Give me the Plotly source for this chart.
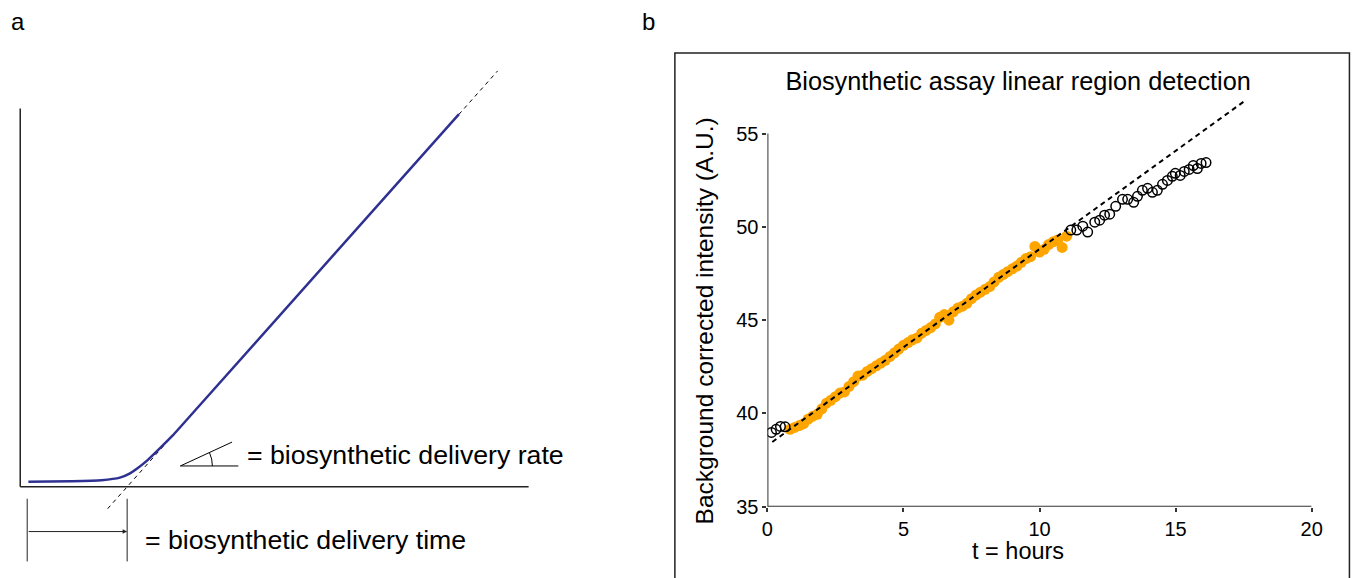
import math
import plotly.graph_objects as go

W, H = 1355, 578

# ---------------- Panel b data (t in hours, intensity in A.U.) ----------------
open_start_t = [0.15, 0.32, 0.48, 0.65]
open_start_y = [38.98, 39.15, 39.30, 39.28]

linear_t = [0.83, 1.00, 1.17, 1.33, 1.50, 1.67, 1.83, 2.00, 2.17, 2.33, 2.50, 2.67, 2.83,
            3.00, 3.17, 3.33, 3.50, 3.67, 3.83, 4.00, 4.17, 4.33, 4.50, 4.67, 4.83, 5.00,
            5.17, 5.33, 5.50, 5.67, 5.83, 6.00, 6.17, 6.33, 6.50, 6.67, 6.83, 7.00, 7.17,
            7.33, 7.50, 7.67, 7.83, 8.00, 8.17, 8.33, 8.50, 8.67, 8.83, 9.00, 9.17, 9.33,
            9.50, 9.67, 9.83, 10.00, 10.17, 10.33, 10.50, 10.67, 10.83, 11.00]
linear_y = [39.15, 39.25, 39.35, 39.45, 39.70, 39.85, 39.95, 40.25, 40.55, 40.70, 40.90, 41.10, 41.15,
            41.45, 41.70, 42.00, 42.05, 42.25, 42.40, 42.55, 42.70, 42.85, 43.05, 43.25, 43.45, 43.65,
            43.80, 43.95, 44.05, 44.30, 44.45, 44.60, 44.80, 45.15, 45.30, 45.00, 45.45, 45.65, 45.75,
            45.90, 46.15, 46.35, 46.50, 46.65, 46.80, 47.05, 47.30, 47.45, 47.60, 47.75, 47.90, 48.10,
            48.30, 48.40, 48.95, 48.65, 48.80, 49.05, 49.20, 49.30, 48.90, 49.50]

open_end_t = [11.15, 11.37, 11.59, 11.77, 12.03, 12.21, 12.39, 12.58, 12.80, 13.05, 13.24, 13.46,
              13.60, 13.78, 13.97, 14.15, 14.33, 14.52, 14.70, 14.88, 14.99, 15.17, 15.32, 15.50,
              15.65, 15.80, 15.94, 16.12]
open_end_y = [49.83, 49.83, 50.04, 49.72, 50.25, 50.36, 50.63, 50.68, 51.10, 51.48, 51.48, 51.32,
              51.64, 51.96, 52.07, 51.85, 51.96, 52.28, 52.49, 52.71, 52.87, 52.76, 52.97, 53.08,
              53.29, 53.13, 53.40, 53.45]

fit_t = [0.18, 17.55]
fit_y = [38.47, 56.76]

x_ticks = [0, 5, 10, 15, 20]
y_ticks = [35, 40, 45, 50, 55]

# ---------------- Panel a schematic (arbitrary units) ----------------
curve_t = [0.16, 1.0, 1.6, 1.96, 2.15, 2.3, 2.5, 2.75, 3.0, 3.5, 8.63]
curve_y = [0.10, 0.11, 0.13, 0.18, 0.26, 0.36, 0.52, 0.76, 1.01, 1.57, 7.33]
asym_t = [1.72, 9.39]
asym_y = [-0.43, 8.18]
lag_time = 2.103

ARIAL = "Liberation Sans, Arial, sans-serif"
BLUE = "#2E3192"
ORANGE = "#FFA500"
AX = "#333333"

# layout placement helpers (target pixel position -> paper fraction, with a small
# correction for the capture scaling measured on a calibration grid)
SX, OX, SY, OY = 0.9925, 2.7, 0.986, -1.3


def px(X):
    return ((X - OX) / SX) / W


def py(Y):
    return 1 - ((Y - OY) / SY) / H


U = 51.1  # schematic: pixels per unit, origin at (17, 488)


def tx(X):
    return (X - 17) / U


def ty(Y):
    return (488 - Y) / U


fig = go.Figure()

fig.add_trace(go.Scatter(x=asym_t, y=asym_y, mode="lines", xaxis="x", yaxis="y",
                         line=dict(color="black", width=1, dash="4px,4px"),
                         showlegend=False, hoverinfo="skip"))
fig.add_trace(go.Scatter(x=curve_t, y=curve_y, mode="lines", xaxis="x", yaxis="y",
                         line=dict(color=BLUE, width=2.5, shape="spline", smoothing=0.6),
                         showlegend=False, hoverinfo="skip"))

fig.add_trace(go.Scatter(x=linear_t, y=linear_y, mode="markers", xaxis="x2", yaxis="y2",
                         marker=dict(color=ORANGE, size=11, line=dict(width=0)),
                         showlegend=False, name="linear region"))
fig.add_trace(go.Scatter(x=open_start_t + open_end_t, y=open_start_y + open_end_y,
                         mode="markers", xaxis="x2", yaxis="y2",
                         marker=dict(color="black", size=9.5, symbol="circle-open",
                                     line=dict(color="black", width=1.5)),
                         showlegend=False, name="excluded"))
fig.add_trace(go.Scatter(x=fit_t, y=fit_y, mode="lines", xaxis="x2", yaxis="y2",
                         line=dict(color="black", width=2, dash="5px,4px"),
                         showlegend=False, hoverinfo="skip"))

shapes = []
shapes.append(dict(type="line", xref="x", yref="y", x0=0, x1=0, y0=0, y1=7.44,
                   line=dict(color="#222", width=1.5)))
shapes.append(dict(type="line", xref="x", yref="y", x0=0, x1=10, y0=0, y1=0,
                   line=dict(color="#222", width=1.5)))
ang_x, ang_y, arm = 3.15, 0.41, 1.14
theta = math.radians(24.8)
shapes.append(dict(type="line", xref="x", yref="y", x0=ang_x, y0=ang_y, x1=ang_x + arm, y1=ang_y,
                   line=dict(color="black", width=1)))
shapes.append(dict(type="line", xref="x", yref="y", x0=ang_x, y0=ang_y,
                   x1=ang_x + 1.12 * math.cos(theta), y1=ang_y + 1.12 * math.sin(theta),
                   line=dict(color="black", width=1)))
r = 0.63
half = theta / 2
ctrl = r / math.cos(half)
shapes.append(dict(type="path", xref="x", yref="y",
                   path=f"M {ang_x + r},{ang_y} Q {ang_x + ctrl * math.cos(half)},{ang_y + ctrl * math.sin(half)} {ang_x + r * math.cos(theta)},{ang_y + r * math.sin(theta)}",
                   line=dict(color="black", width=1)))
for xv in (0.137, lag_time):
    shapes.append(dict(type="line", xref="x", yref="y", x0=xv, x1=xv, y0=-0.235, y1=-1.468,
                       line=dict(color="#222", width=1)))
shapes.append(dict(type="line", xref="x2", yref="y2", x0=0, x1=0, y0=35, y1=55,
                   line=dict(color=AX, width=2)))
shapes.append(dict(type="line", xref="x2", yref="y2", x0=0, x1=20, y0=35, y1=35,
                   line=dict(color=AX, width=2)))
shapes.append(dict(type="rect", xref="paper", yref="paper", x0=px(675), x1=px(1353),
                   y0=-0.05, y1=py(52), line=dict(color="#222", width=1.5)))

annotations = [
    dict(text="a", x=px(15), y=py(20), xref="paper", yref="paper", showarrow=False,
         font=dict(family=ARIAL, size=24, color="black"), xanchor="center", yanchor="middle"),
    dict(text="b", x=px(648), y=py(20), xref="paper", yref="paper", showarrow=False,
         font=dict(family=ARIAL, size=24, color="black"), xanchor="center", yanchor="middle"),
    dict(text="= biosynthetic delivery rate", x=tx(243), y=ty(456),
         xref="x", yref="y", showarrow=False, xanchor="left", yanchor="middle",
         font=dict(family=ARIAL, size=26.7, color="black")),
    dict(text="= biosynthetic delivery time", x=tx(140), y=ty(541),
         xref="x", yref="y", showarrow=False, xanchor="left", yanchor="middle",
         font=dict(family=ARIAL, size=26.7, color="black")),
    dict(text="", x=lag_time, y=ty(533), ax=0.137, ay=ty(533), xref="x", yref="y",
         axref="x", ayref="y", showarrow=True, arrowhead=2, arrowsize=0.9, arrowwidth=1,
         arrowcolor="#222", standoff=0, startstandoff=0),
    dict(text="t = hours", x=px(1020), y=py(553), xref="paper", yref="paper",
         showarrow=False, xanchor="center", yanchor="middle",
         font=dict(family=ARIAL, size=23.5, color="black")),
    dict(text="Background corrected intensity (A.U.)", x=px(705), y=py(321),
         xref="paper", yref="paper", showarrow=False, xanchor="center", yanchor="middle",
         textangle=-90, font=dict(family=ARIAL, size=24.5, color="black")),
]

fig.update_layout(
    width=W, height=H,
    margin=dict(l=0, r=0, t=0, b=0),
    paper_bgcolor="white", plot_bgcolor="rgba(0,0,0,0)",
    showlegend=False,
    title=dict(text="Biosynthetic assay linear region detection", x=px(1020), y=py(80),
               xref="paper", yref="paper", xanchor="center", yanchor="middle",
               font=dict(family=ARIAL, size=25.3, color="black")),
    xaxis=dict(domain=[px(3), px(640)], range=[tx(3), tx(640)], visible=False),
    yaxis=dict(domain=[py(568), py(0)], range=[ty(568), ty(0)], visible=False),
    xaxis2=dict(domain=[px(768), px(1315)], range=[0, 20], anchor="y2",
                tickvals=x_ticks, ticktext=[str(v) for v in x_ticks],
                ticks="outside", ticklen=4, tickwidth=2, tickcolor=AX,
                showline=False, showgrid=False, zeroline=False,
                tickfont=dict(family=ARIAL, size=20, color="black")),
    yaxis2=dict(domain=[py(508), py(67.375)], range=[35, 58.5], anchor="x2",
                tickvals=y_ticks, ticktext=[str(v) for v in y_ticks],
                ticks="outside", ticklen=4, tickwidth=2, tickcolor=AX,
                showline=False, showgrid=False, zeroline=False,
                tickfont=dict(family=ARIAL, size=20, color="black")),
    shapes=shapes,
    annotations=annotations,
)

fig.write_html("out.html", config={"displayModeBar": False},
               post_script="document.body.style.margin='0';document.body.style.overflow='hidden';")
